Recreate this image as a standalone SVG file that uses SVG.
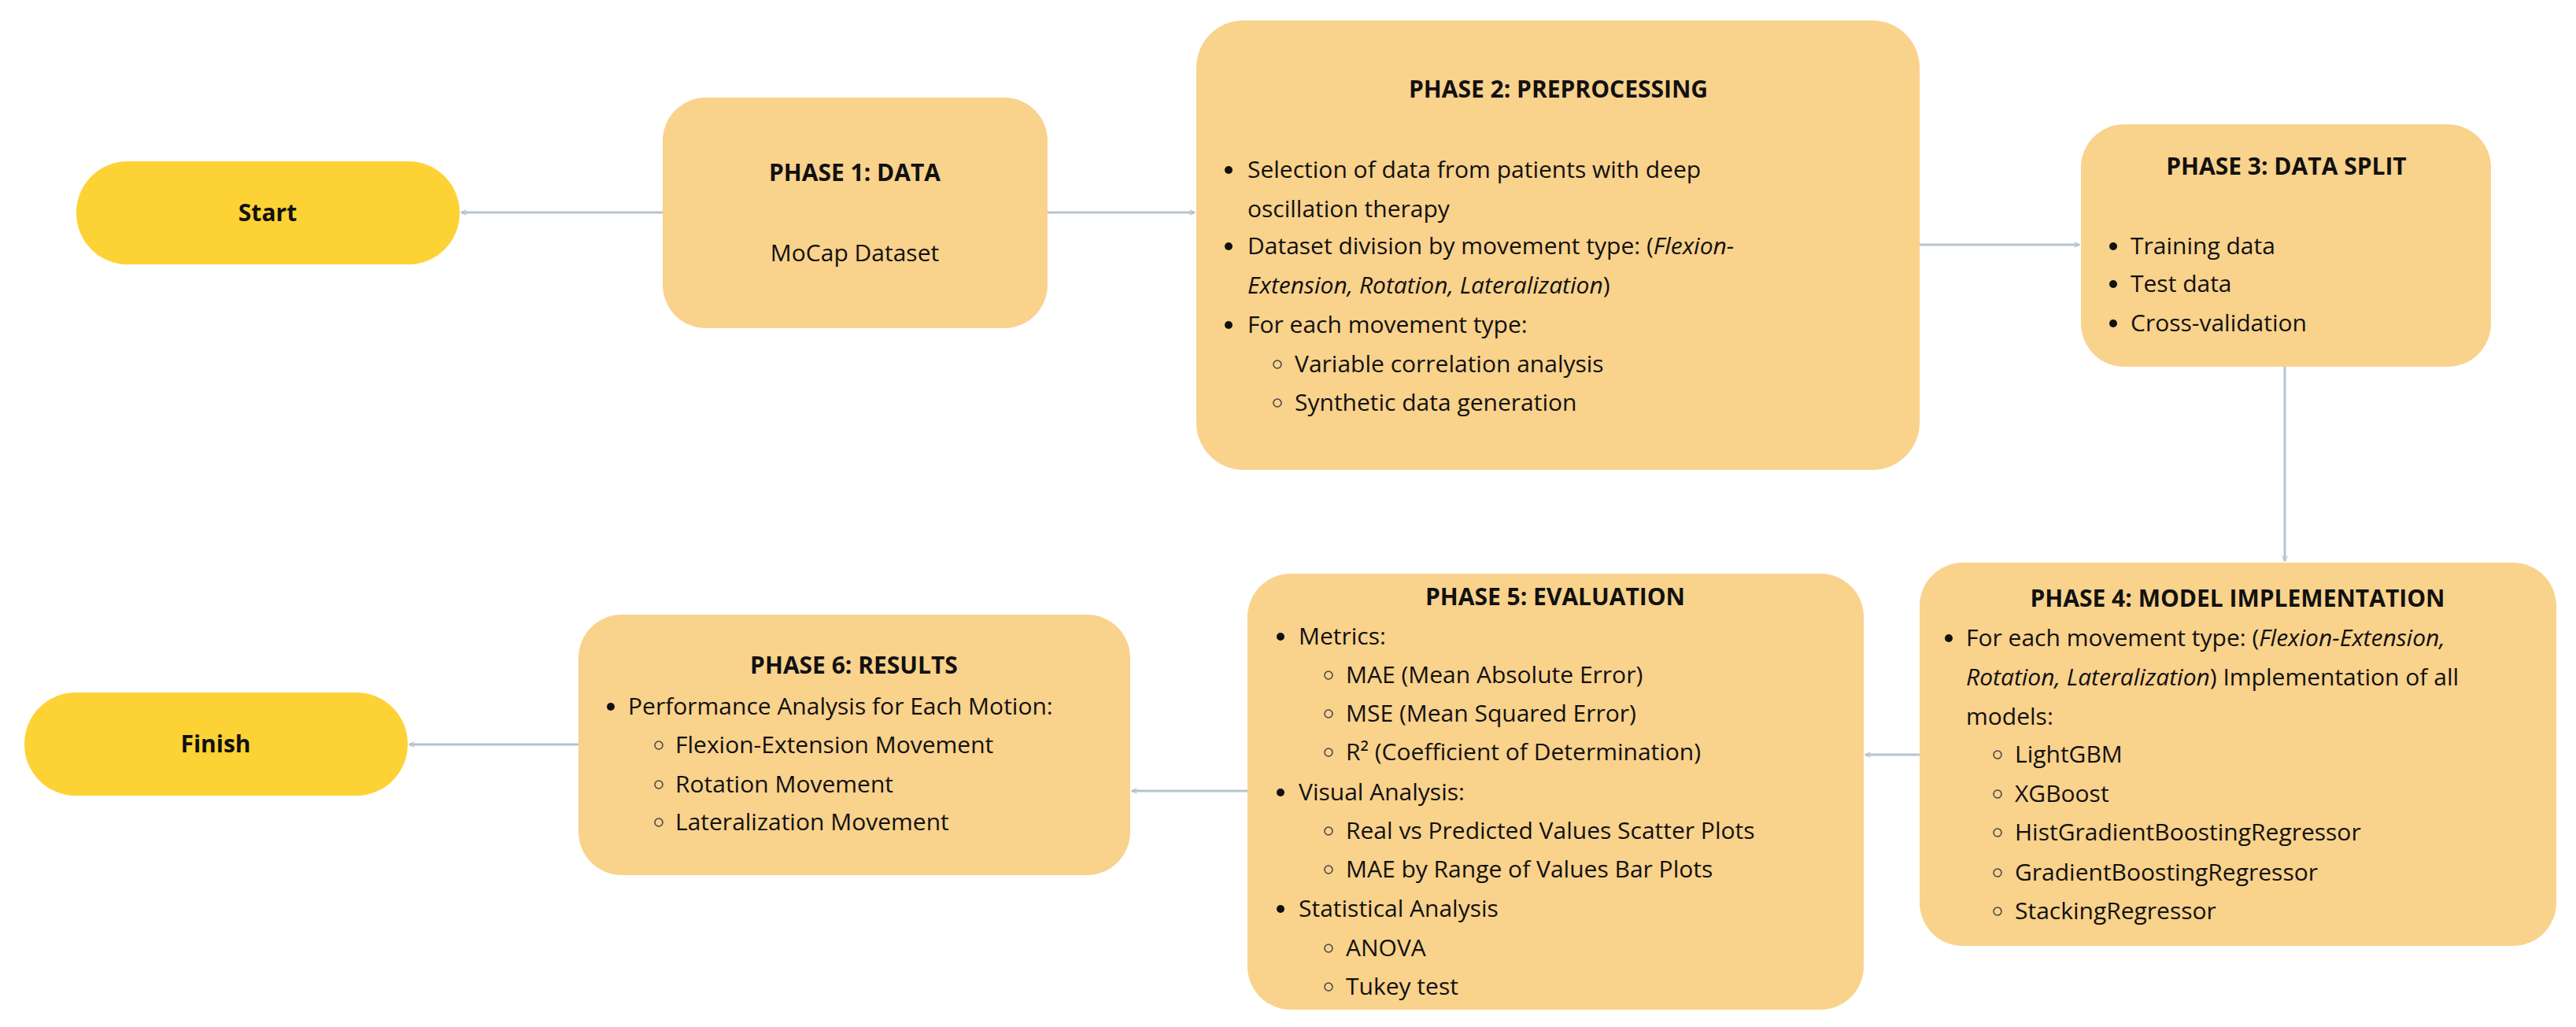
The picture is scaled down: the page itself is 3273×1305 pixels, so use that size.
<svg xmlns="http://www.w3.org/2000/svg" width="3273" height="1305" viewBox="0 0 3273 1305">
<defs>
<marker id="ah" viewBox="0 0 10 10" refX="9" refY="5" markerWidth="8" markerHeight="8" orient="auto" markerUnits="userSpaceOnUse"><path d="M1,1 L9,5 L1,9" fill="none" stroke="#b5c2cb" stroke-width="1.5"/></marker>
<style>
.box{fill:#f9d28c}
.term{fill:#fdd235}
.t{font-family:"Open Sans","Liberation Sans",sans-serif;font-size:30px;fill:#111}
.h{font-family:"Open Sans","Liberation Sans",sans-serif;font-size:30px;font-weight:bold;fill:#111;text-anchor:middle}
.c{fill:none;stroke:#444;stroke-width:1.5}
.e{stroke:#b8c4cc;stroke-width:3;fill:none;marker-end:url(#ah)}
</style>
</defs>
<rect width="3273" height="1305" fill="#fff"/>
<g id="connectors">
<path class="e" d="M842,270 H586"/>
<path class="e" d="M1331,270 H1518"/>
<path class="e" d="M2439,311 H2642"/>
<path class="e" d="M2903,466 V713"/>
<path class="e" d="M2439,959 H2370"/>
<path class="e" d="M1585,1005 H1438"/>
<path class="e" d="M735,946 H520"/>
</g>
<g id="start"><rect class="term" x="97" y="205" width="487" height="131" rx="65"/><text class="h" x="340" y="281">Start</text></g>
<g id="finish"><rect class="term" x="31" y="880" width="487" height="131" rx="65"/><text class="h" x="274" y="956">Finish</text></g>
<g id="phase1"><rect class="box" x="842" y="124" width="489" height="293" rx="55"/>
<text class="h" x="1086" y="230">PHASE 1: DATA</text>
<text class="t" x="1086" y="332" text-anchor="middle">MoCap Dataset</text></g>
<g id="phase2"><rect class="box" x="1520" y="26" width="919" height="571" rx="60"/>
<text class="h" x="1980" y="124">PHASE 2: PREPROCESSING</text>
<circle cx="1561" cy="216" r="5" fill="#111"/><text class="t" x="1585" y="226">Selection of data from patients with deep</text>
<text class="t" x="1585" y="276">oscillation therapy</text>
<circle cx="1561" cy="313" r="5" fill="#111"/><text class="t" x="1585" y="323">Dataset division by movement type: (<tspan font-style="italic">Flexion-</tspan></text>
<text class="t" x="1585" y="373"><tspan font-style="italic">Extension, Rotation, Lateralization</tspan>)</text>
<circle cx="1561" cy="413" r="5" fill="#111"/><text class="t" x="1585" y="423">For each movement type:</text>
<circle class="c" cx="1623" cy="463" r="5"/><text class="t" x="1645" y="473">Variable correlation analysis</text>
<circle class="c" cx="1623" cy="512" r="5"/><text class="t" x="1645" y="522">Synthetic data generation</text></g>
<g id="phase3"><rect class="box" x="2644" y="158" width="521" height="308" rx="55"/>
<text class="h" x="2905" y="222">PHASE 3: DATA SPLIT</text>
<circle cx="2685" cy="313" r="5" fill="#111"/><text class="t" x="2707" y="323">Training data</text>
<circle cx="2685" cy="361" r="5" fill="#111"/><text class="t" x="2707" y="371">Test data</text>
<circle cx="2685" cy="411" r="5" fill="#111"/><text class="t" x="2707" y="421">Cross-validation</text></g>
<g id="phase4"><rect class="box" x="2439" y="715" width="809" height="487" rx="55"/>
<text class="h" x="2843" y="771">PHASE 4: MODEL IMPLEMENTATION</text>
<circle cx="2476" cy="811" r="5" fill="#111"/><text class="t" x="2498" y="821">For each movement type: (<tspan font-style="italic">Flexion-Extension,</tspan></text>
<text class="t" x="2498" y="871"><tspan font-style="italic">Rotation, Lateralization</tspan>) Implementation of all</text>
<text class="t" x="2498" y="921">models:</text>
<circle class="c" cx="2538" cy="959" r="5"/><text class="t" x="2560" y="969">LightGBM</text>
<circle class="c" cx="2538" cy="1009" r="5"/><text class="t" x="2560" y="1019">XGBoost</text>
<circle class="c" cx="2538" cy="1058" r="5"/><text class="t" x="2560" y="1068">HistGradientBoostingRegressor</text>
<circle class="c" cx="2538" cy="1109" r="5"/><text class="t" x="2560" y="1119">GradientBoostingRegressor</text>
<circle class="c" cx="2538" cy="1158" r="5"/><text class="t" x="2560" y="1168">StackingRegressor</text></g>
<g id="phase5"><rect class="box" x="1585" y="729" width="783" height="554" rx="55"/>
<text class="h" x="1976" y="769">PHASE 5: EVALUATION</text>
<circle cx="1627" cy="809" r="5" fill="#111"/><text class="t" x="1650" y="819">Metrics:</text>
<circle class="c" cx="1688" cy="858" r="5"/><text class="t" x="1710" y="868">MAE (Mean Absolute Error)</text>
<circle class="c" cx="1688" cy="907" r="5"/><text class="t" x="1710" y="917">MSE (Mean Squared Error)</text>
<circle class="c" cx="1688" cy="956" r="5"/><text class="t" x="1710" y="966">R² (Coefficient of Determination)</text>
<circle cx="1627" cy="1007" r="5" fill="#111"/><text class="t" x="1650" y="1017">Visual Analysis:</text>
<circle class="c" cx="1688" cy="1056" r="5"/><text class="t" x="1710" y="1066">Real vs Predicted Values Scatter Plots</text>
<circle class="c" cx="1688" cy="1105" r="5"/><text class="t" x="1710" y="1115">MAE by Range of Values Bar Plots</text>
<circle cx="1627" cy="1155" r="5" fill="#111"/><text class="t" x="1650" y="1165">Statistical Analysis</text>
<circle class="c" cx="1688" cy="1205" r="5"/><text class="t" x="1710" y="1215">ANOVA</text>
<circle class="c" cx="1688" cy="1254" r="5"/><text class="t" x="1710" y="1264">Tukey test</text></g>
<g id="phase6"><rect class="box" x="735" y="781" width="701" height="331" rx="55"/>
<text class="h" x="1085" y="856">PHASE 6: RESULTS</text>
<circle cx="776" cy="898" r="5" fill="#111"/><text class="t" x="798" y="908">Performance Analysis for Each Motion:</text>
<circle class="c" cx="837" cy="947" r="5"/><text class="t" x="858" y="957">Flexion-Extension Movement</text>
<circle class="c" cx="837" cy="997" r="5"/><text class="t" x="858" y="1007">Rotation Movement</text>
<circle class="c" cx="837" cy="1045" r="5"/><text class="t" x="858" y="1055">Lateralization Movement</text></g>
</svg>
